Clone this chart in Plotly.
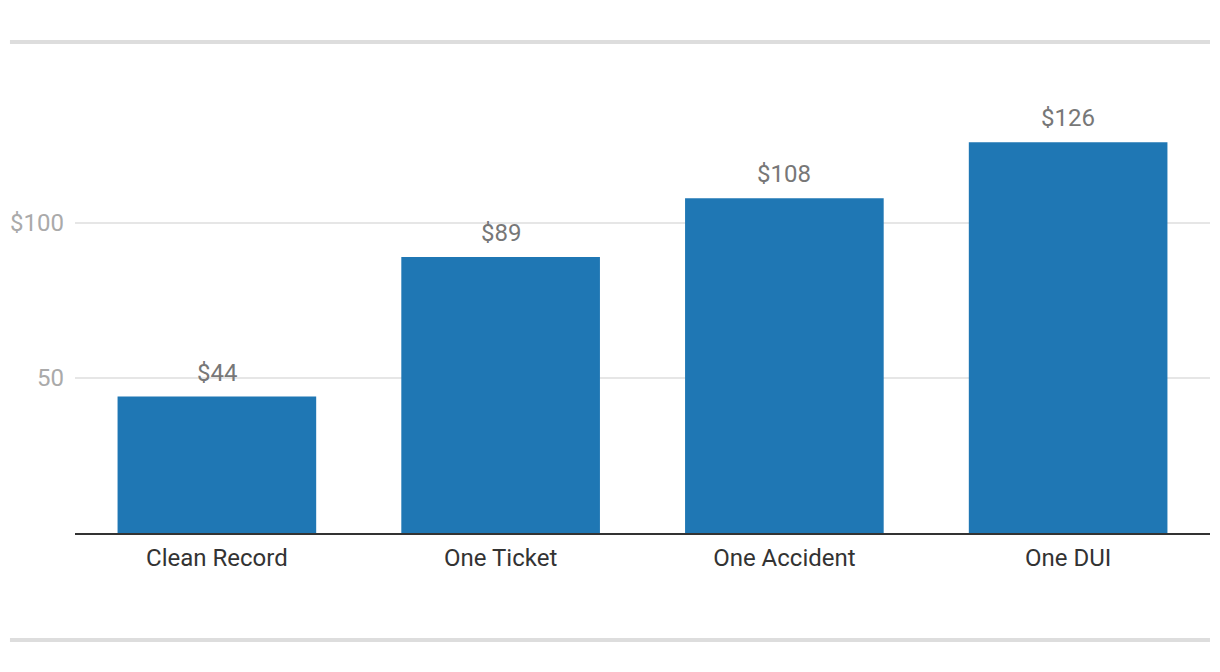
import plotly.graph_objects as go

categories = ["Clean Record", "One Ticket", "One Accident", "One DUI"]
values = [44, 89, 108, 126]
value_labels = ["$44", "$89", "$108", "$126"]
ytick_vals = [50, 100]
ytick_text = ["50", "$100"]

FONT = "Roboto"
fig = go.Figure()
fig.add_trace(go.Bar(
    x=categories, y=values, marker=dict(color="#1f77b4", line=dict(width=0)),
    hoverinfo="skip", showlegend=False,
))

for c, v, t in zip(categories, values, value_labels):
    fig.add_annotation(x=c, y=v, text=t, showarrow=False, yanchor="bottom",
                       yshift=8, font=dict(family=FONT, size=24, color="#777777"))

# decorative separators above and below the chart
fig.add_shape(type="line", xref="paper", yref="paper", x0=-0.0573, x1=1.0,
              y0=1.084, y1=1.084, line=dict(color="#dddddd", width=4))
fig.add_shape(type="line", xref="paper", yref="paper", x0=-0.0573, x1=1.0,
              y0=-0.236, y1=-0.236, line=dict(color="#dddddd", width=4))

fig.update_layout(
    width=1220, height=672,
    margin=dict(l=67, r=18, t=72, b=147),
    paper_bgcolor="white", plot_bgcolor="white",
    bargap=0.3,
    font=dict(family=FONT),
    xaxis=dict(showline=True, linecolor="#333333", linewidth=2, showgrid=False,
               ticks="", tickfont=dict(family=FONT, size=24, color="#333333"),
               ticklabelstandoff=2, fixedrange=True, automargin=False),
    yaxis=dict(range=[0, 146.1], tickvals=ytick_vals, ticktext=ytick_text,
               showgrid=True, gridcolor="#e6e6e6", gridwidth=2, zeroline=False,
               showline=False, ticks="",
               tickfont=dict(family=FONT, size=24, color="#aaaaaa"),
               ticklabelstandoff=10, fixedrange=True, automargin=False),
)

fig.write_html("out.html")
